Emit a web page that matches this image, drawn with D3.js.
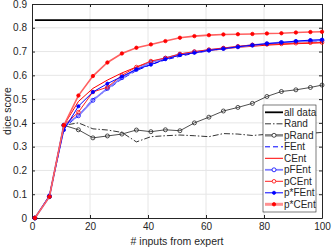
<!DOCTYPE html>
<html>
<head>
<meta charset="utf-8">
<script src="https://cdn.jsdelivr.net/npm/d3@7"></script>
<style>
  body { margin: 0; background: #fff; }
  svg { font-family: "Liberation Sans", Arial, sans-serif; }
</style>
</head>
<body>
<svg id="chart" width="332" height="249"></svg>
<script>
// values
const inputs = [1, 6, 11, 16, 21, 26, 31, 36, 41, 46, 51, 56, 61, 66, 71, 76, 81, 86, 91, 96, 100];
const allData = 0.832;
const rand   = [0, 0.09, 0.39, 0.40, 0.375, 0.37, 0.36, 0.32, 0.342, 0.346, 0.349, 0.346, 0.342, 0.355, 0.353, 0.347, 0.352, 0.355, 0.35, 0.356, 0.36];
const pRand  = [0, 0.09, 0.39, 0.371, 0.337, 0.345, 0.353, 0.37, 0.363, 0.371, 0.367, 0.40, 0.424, 0.45, 0.465, 0.482, 0.511, 0.532, 0.539, 0.549, 0.559];
const fEnt   = [0, 0.09, 0.38, 0.43, 0.50, 0.54, 0.585, 0.62, 0.645, 0.665, 0.68, 0.693, 0.703, 0.712, 0.72, 0.727, 0.732, 0.737, 0.741, 0.744, 0.745];
const cEnt   = [0, 0.09, 0.39, 0.49, 0.545, 0.58, 0.61, 0.635, 0.655, 0.67, 0.685, 0.695, 0.705, 0.71, 0.718, 0.722, 0.727, 0.73, 0.733, 0.735, 0.737];
const pFEnt  = [0, 0.09, 0.39, 0.43, 0.495, 0.545, 0.59, 0.625, 0.655, 0.672, 0.688, 0.698, 0.706, 0.713, 0.72, 0.727, 0.733, 0.738, 0.742, 0.745, 0.747];
const pCEnt  = [0, 0.09, 0.39, 0.445, 0.53, 0.55, 0.60, 0.635, 0.66, 0.673, 0.69, 0.70, 0.708, 0.715, 0.722, 0.728, 0.73, 0.732, 0.735, 0.737, 0.738];
const psFEnt = [0, 0.095, 0.37, 0.47, 0.53, 0.565, 0.595, 0.625, 0.645, 0.668, 0.685, 0.695, 0.705, 0.712, 0.72, 0.727, 0.733, 0.738, 0.744, 0.748, 0.75];
const psCEnt = [0, 0.09, 0.39, 0.515, 0.597, 0.654, 0.692, 0.716, 0.73, 0.744, 0.758, 0.765, 0.769, 0.772, 0.773, 0.774, 0.776, 0.777, 0.78, 0.782, 0.783];
const xTicks = [0, 20, 40, 60, 80, 100];
const yTicks = [0, 0.1, 0.2, 0.3, 0.4, 0.5, 0.6, 0.7, 0.8, 0.9];

const series = [
  { name: "Rand",   values: rand,   color: "#000", width: 0.8, dash: "6,2,1.5,2" },
  { name: "pRand",  values: pRand,  color: "#222", width: 0.8, marker: "open", r: 2, legendColor: "#888", legendWidth: 2.5 },
  { name: "FEnt",   values: fEnt,   color: "#0000ff", width: 1, dash: "5,3" },
  { name: "CEnt",   values: cEnt,   color: "#ff0000", width: 1 },
  { name: "pFEnt",  values: pFEnt,  color: "#8080ff", width: 1.8, marker: "open", r: 2, markerColor: "#0000ff" },
  { name: "pCEnt",  values: pCEnt,  color: "#ff2020", width: 1, marker: "open", r: 1.8, markerColor: "#ff0000" },
  { name: "p*FEnt", values: psFEnt, color: "#0000ff", width: 1, marker: "filled", r: 1.6, markerColor: "#0000ff" },
  { name: "p*CEnt", values: psCEnt, color: "#ff6060", width: 1.6, marker: "filled", r: 1.7, markerColor: "#ff0000", legendColor: "#ff9090", legendWidth: 3 }
];

const margin = { top: 4, right: 10, bottom: 31, left: 32 };
const width = 332 - margin.left - margin.right;
const height = 249 - margin.top - margin.bottom;

const svg = d3.select("#chart");
const g = svg.append("g").attr("transform", `translate(${margin.left},${margin.top})`);

const x = d3.scaleLinear().domain([0, 100]).range([0, width]);
const y = d3.scaleLinear().domain([0, 0.9]).range([height, 0]);

// grid
g.append("g").selectAll("line").data(xTicks.slice(1, -1)).join("line")
  .attr("x1", d => x(d)).attr("x2", d => x(d)).attr("y1", 0).attr("y2", height)
  .attr("stroke", "#e6e6e6").attr("stroke-width", 1);
g.append("g").selectAll("line").data(yTicks.slice(1, -1)).join("line")
  .attr("x1", 0).attr("x2", width).attr("y1", d => y(d)).attr("y2", d => y(d))
  .attr("stroke", "#e6e6e6").attr("stroke-width", 1);

// axes, ticks pointing inward like matlab
const fmt = d => d3.format("~g")(d);
const styleAxis = sel => {
  sel.select(".domain").attr("stroke", "#262626");
  sel.selectAll(".tick line").attr("stroke", "#262626");
  sel.selectAll("text").attr("fill", "#262626").style("font-size", "10px");
};
g.append("g").attr("transform", `translate(0,${height})`)
  .call(d3.axisBottom(x).tickValues(xTicks).tickFormat(fmt).tickSizeInner(-3).tickSizeOuter(0).tickPadding(5))
  .call(styleAxis);
g.append("g")
  .call(d3.axisLeft(y).tickValues(yTicks).tickFormat(fmt).tickSizeInner(-3).tickSizeOuter(0).tickPadding(5))
  .call(styleAxis);
g.append("g")
  .call(d3.axisTop(x).tickValues(xTicks).tickFormat("").tickSizeInner(-3).tickSizeOuter(0))
  .call(styleAxis);
g.append("g").attr("transform", `translate(${width},0)`)
  .call(d3.axisRight(y).tickValues(yTicks).tickFormat("").tickSizeInner(-3).tickSizeOuter(0))
  .call(styleAxis);

// all data reference line
g.append("line")
  .attr("x1", x(inputs[0])).attr("x2", x(inputs[inputs.length - 1]))
  .attr("y1", y(allData)).attr("y2", y(allData))
  .attr("stroke", "#000").attr("stroke-width", 1.8);

const line = d3.line().x((d, i) => x(inputs[i])).y(d => y(d));

series.forEach(s => {
  g.append("path")
    .datum(s.values)
    .attr("fill", "none")
    .attr("stroke", s.color)
    .attr("stroke-width", s.width)
    .attr("stroke-dasharray", s.dash || null)
    .attr("d", line);
  if (s.marker) {
    g.append("g").selectAll("circle").data(s.values).join("circle")
      .attr("cx", (d, i) => x(inputs[i]))
      .attr("cy", d => y(d))
      .attr("r", s.r)
      .attr("fill", s.marker === "filled" ? (s.markerColor || s.color) : "none")
      .attr("stroke", s.markerColor || s.color)
      .attr("stroke-width", 0.8);
  }
});

// axis labels
svg.append("text")
  .attr("x", margin.left + width / 2).attr("y", 245)
  .attr("text-anchor", "middle").attr("fill", "#262626")
  .style("font-size", "10.5px")
  .text("# inputs from expert");
svg.append("text")
  .attr("transform", `translate(11,${margin.top + height / 2}) rotate(-90)`)
  .attr("text-anchor", "middle").attr("fill", "#262626")
  .style("font-size", "10.5px")
  .text("dice score");

// legend
const legendItems = [{ name: "all data", color: "#000", width: 1.8 }].concat(series);
const legend = svg.append("g").attr("transform", "translate(263,105)");
legend.append("rect")
  .attr("width", 53).attr("height", 107)
  .attr("fill", "#fff").attr("stroke", "#262626").attr("stroke-width", 0.6);
legendItems.forEach((item, i) => {
  const ly = 7.3 + i * 11.5;
  const row = legend.append("g").attr("transform", `translate(0,${ly})`);
  row.append("line")
    .attr("x1", 2).attr("x2", 20).attr("y1", 0).attr("y2", 0)
    .attr("stroke", item.legendColor || item.color)
    .attr("stroke-width", item.legendWidth || item.width)
    .attr("stroke-dasharray", item.dash || null);
  if (item.marker) {
    row.append("circle")
      .attr("cx", 11).attr("cy", 0).attr("r", item.r)
      .attr("fill", item.marker === "filled" ? (item.markerColor || item.color) : "#fff")
      .attr("stroke", item.markerColor || (item.name === "pRand" ? "#222" : item.color))
      .attr("stroke-width", 0.8);
  }
  row.append("text")
    .attr("x", 21).attr("y", 0).attr("dy", "0.35em")
    .attr("fill", "#262626").style("font-size", "10px")
    .text(item.name);
});
</script>
</body>
</html>
